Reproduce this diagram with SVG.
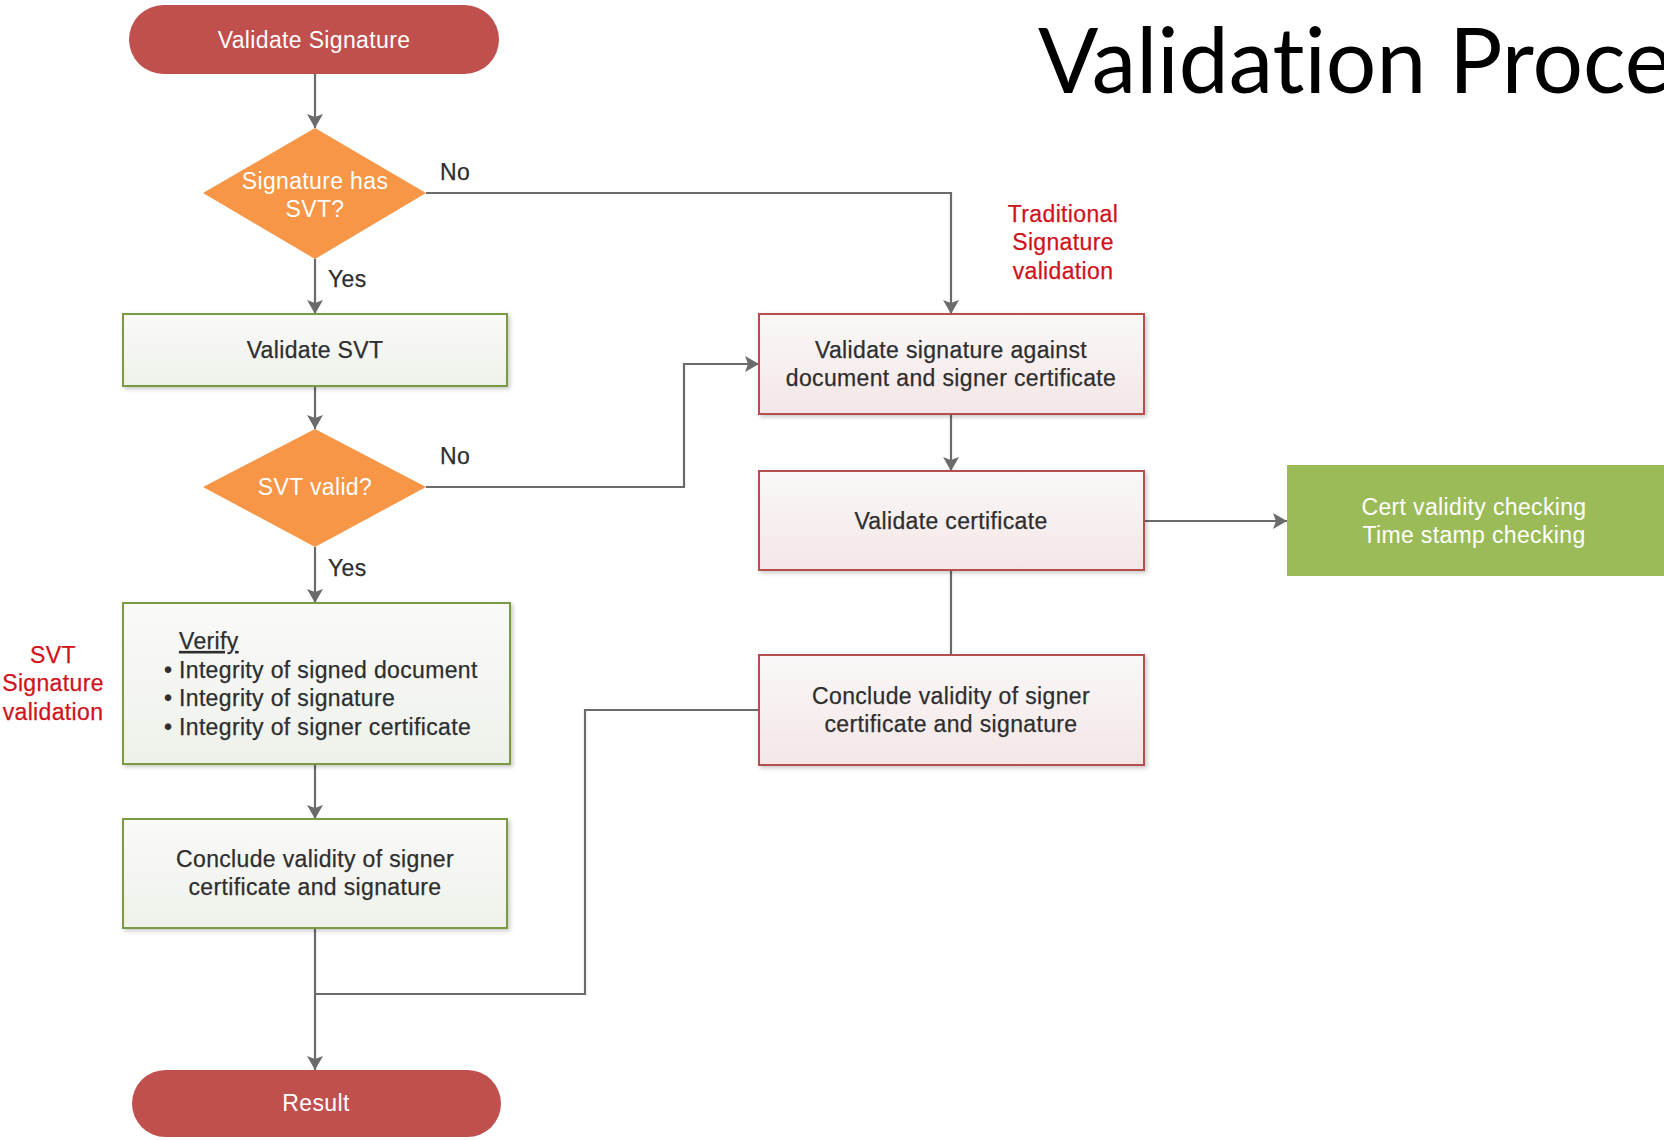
<svg xmlns="http://www.w3.org/2000/svg" width="1664" height="1140" viewBox="0 0 1664 1140">
  <defs>
    <style>
      .lbl { font-family: "Liberation Sans", Arial, sans-serif; font-size: 23px; letter-spacing: 0.35px; }
      .dark { fill: #2e2e2e; stroke: #2e2e2e; stroke-width: 0.25px; }
      .white { fill: #ffffff; }
      .red { fill: #d0121b; stroke: #d0121b; stroke-width: 0.25px; }
      .mid { text-anchor: middle; }
      .pill { fill: #c0504d; }
      .dec { fill: #f79646; }
      .gbox { fill: url(#gGrad); stroke: #7a9a45; stroke-width: 2; }
      .rbox { fill: url(#rGrad); stroke: #b54f4c; stroke-width: 2; }
      .conn { fill: none; stroke: #6b6b6b; stroke-width: 2.2; }
      .arr { marker-end: url(#arrow); }
    </style>
    <linearGradient id="gGrad" x1="0" y1="0" x2="0" y2="1">
      <stop offset="0" stop-color="#fafaf9"/>
      <stop offset="1" stop-color="#eef1ea"/>
    </linearGradient>
    <linearGradient id="rGrad" x1="0" y1="0" x2="0" y2="1">
      <stop offset="0" stop-color="#faf8f8"/>
      <stop offset="1" stop-color="#f4e6e6"/>
    </linearGradient>
    <filter id="shadow" x="-5%" y="-10%" width="115%" height="130%">
      <feDropShadow dx="2" dy="2" stdDeviation="2" flood-color="#000000" flood-opacity="0.22"/>
    </filter>
    <marker id="arrow" markerUnits="userSpaceOnUse" markerWidth="14" markerHeight="16" refX="14" refY="8" orient="auto">
      <path d="M0,0 L14,8 L0,16 L3,8 z" fill="#6b6b6b"/>
    </marker>
  </defs>

  <!-- heading -->
  <text x="1038" y="93" font-family="Lato, 'Open Sans', sans-serif" font-size="92" fill="#000000" style="font-variant-ligatures: none" textLength="634" lengthAdjust="spacingAndGlyphs">Validation Proce</text>

  <!-- connectors -->
  <g id="connectors">
    <path class="conn arr" d="M315,74 V128"/>
    <path class="conn arr" d="M426,193 H951 V314"/>
    <path class="conn arr" d="M315,259 V314"/>
    <path class="conn arr" d="M315,386 V429"/>
    <path class="conn arr" d="M426,487 H684 V364 H759"/>
    <path class="conn arr" d="M315,547 V603"/>
    <path class="conn arr" d="M315,764 V819"/>
    <path class="conn arr" d="M315,928 V1070"/>
    <path class="conn" d="M759,710 H585 V994 H315"/>
    <path class="conn arr" d="M951,414 V471"/>
    <path class="conn" d="M951,570 V655"/>
    <path class="conn arr" d="M1144,521 H1287"/>
  </g>

  <!-- edge labels -->
  <g id="edge-labels" class="lbl dark">
    <text x="440" y="180">No</text>
    <text x="328" y="287">Yes</text>
    <text x="440" y="464">No</text>
    <text x="328" y="576">Yes</text>
  </g>

  <g id="start">
    <rect class="pill" x="129" y="5" width="370" height="69" rx="34.5"/>
    <text class="lbl white mid" x="314" y="48">Validate Signature</text>
  </g>

  <g id="has-svt">
    <polygon class="dec" points="315,128 426,193 315,259 203,193"/>
    <text class="lbl white mid" x="315" y="189">Signature has</text>
    <text class="lbl white mid" x="315" y="217">SVT?</text>
  </g>

  <g id="validate-svt">
    <rect class="gbox" filter="url(#shadow)" x="123" y="314" width="384" height="72"/>
    <text class="lbl dark mid" x="315" y="358">Validate SVT</text>
  </g>

  <g id="svt-valid">
    <polygon class="dec" points="315,429 426,487 315,547 203,487"/>
    <text class="lbl white mid" x="315" y="495">SVT valid?</text>
  </g>

  <g id="verify">
    <rect class="gbox" filter="url(#shadow)" x="123" y="603" width="387" height="161"/>
    <text class="lbl dark" x="179" y="649" text-decoration="underline">Verify</text>
    <text class="lbl dark" x="164" y="678">•</text>
    <text class="lbl dark" x="179" y="678">Integrity of signed document</text>
    <text class="lbl dark" x="164" y="706">•</text>
    <text class="lbl dark" x="179" y="706">Integrity of signature</text>
    <text class="lbl dark" x="164" y="735">•</text>
    <text class="lbl dark" x="179" y="735">Integrity of signer certificate</text>
  </g>

  <g id="svt-note">
    <text class="lbl red mid" x="53" y="663">SVT</text>
    <text class="lbl red mid" x="53" y="691">Signature</text>
    <text class="lbl red mid" x="53" y="720">validation</text>
  </g>

  <g id="conclude-svt">
    <rect class="gbox" filter="url(#shadow)" x="123" y="819" width="384" height="109"/>
    <text class="lbl dark mid" x="315" y="867">Conclude validity of signer</text>
    <text class="lbl dark mid" x="315" y="895">certificate and signature</text>
  </g>

  <g id="result">
    <rect class="pill" x="132" y="1070" width="369" height="67" rx="33.5"/>
    <text class="lbl white mid" x="316" y="1111">Result</text>
  </g>

  <g id="traditional-note">
    <text class="lbl red mid" x="1063" y="222">Traditional</text>
    <text class="lbl red mid" x="1063" y="250">Signature</text>
    <text class="lbl red mid" x="1063" y="279">validation</text>
  </g>

  <g id="validate-signature">
    <rect class="rbox" filter="url(#shadow)" x="759" y="314" width="385" height="100"/>
    <text class="lbl dark mid" x="951" y="358">Validate signature against</text>
    <text class="lbl dark mid" x="951" y="386">document and signer certificate</text>
  </g>

  <g id="validate-certificate">
    <rect class="rbox" filter="url(#shadow)" x="759" y="471" width="385" height="99"/>
    <text class="lbl dark mid" x="951" y="529">Validate certificate</text>
  </g>

  <g id="conclude-traditional">
    <rect class="rbox" filter="url(#shadow)" x="759" y="655" width="385" height="110"/>
    <text class="lbl dark mid" x="951" y="704">Conclude validity of signer</text>
    <text class="lbl dark mid" x="951" y="732">certificate and signature</text>
  </g>

  <g id="cert-checks">
    <rect x="1287" y="465" width="390" height="111" fill="#9bbb59"/>
    <text class="lbl white mid" x="1474" y="515">Cert validity checking</text>
    <text class="lbl white mid" x="1474" y="543">Time stamp checking</text>
  </g>
</svg>
